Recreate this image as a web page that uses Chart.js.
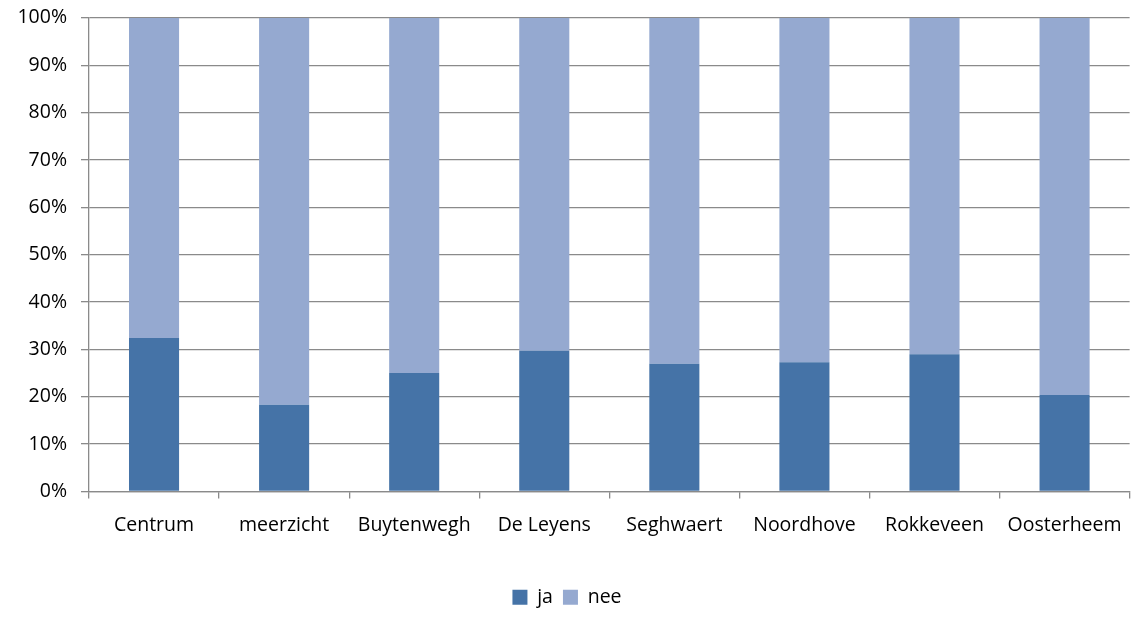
<!DOCTYPE html>
<html lang="nl">
<head>
    <meta charset="UTF-8">
    <title>ja / nee per wijk</title>
    <script src="https://cdn.jsdelivr.net/npm/chart.js"></script>
    <style>
        html, body { margin: 0; padding: 0; background: #fff; }
        .wrap { width: 1137px; height: 617px; }
    </style>
</head>
<body>
    <div class="wrap"><canvas id="chart" width="1137" height="617"></canvas></div>

    <script>
        // wijken en percentages
        const wijken = ['Centrum', 'meerzicht', 'Buytenwegh', 'De Leyens', 'Seghwaert', 'Noordhove', 'Rokkeveen', 'Oosterheem'];
        const ja  = [32.4, 18.3, 25.0, 29.7, 27.0, 27.3, 29.0, 20.4];
        const nee = [67.6, 81.7, 75.0, 70.3, 73.0, 72.7, 71.0, 79.6];
        const yTicks = [0, 10, 20, 30, 40, 50, 60, 70, 80, 90, 100];

        const gridColor = '#8a8a8a';
        const font = { family: '"Open Sans", sans-serif', size: 19.5 };

        new Chart(document.getElementById('chart'), {
            type: 'bar',
            data: {
                labels: wijken,
                datasets: [
                    { label: 'ja', data: ja, backgroundColor: '#4573a7', barPercentage: 0.77, categoryPercentage: 0.5 },
                    { label: 'nee', data: nee, backgroundColor: '#95a9d0', barPercentage: 0.77, categoryPercentage: 0.5 }
                ]
            },
            options: {
                responsive: false,
                animation: false,
                layout: { padding: { top: 14, right: 7, left: 4, bottom: 0 } },
                plugins: {
                    tooltip: { enabled: false },
                    legend: {
                        position: 'bottom',
                        labels: {
                            color: '#000',
                            font: font,
                            boxWidth: 15,
                            boxHeight: 15,
                            padding: 10
                        }
                    }
                },
                scales: {
                    x: {
                        stacked: true,
                        grid: { display: true, drawOnChartArea: false, drawTicks: true, tickLength: 7, color: gridColor, lineWidth: 1.3, offset: true },
                        border: { display: true, color: gridColor, width: 1.3 },
                        ticks: { color: '#000', font: font, padding: 15, maxRotation: 0, autoSkip: false },
                        afterFit: s => { s.height = 86; }
                    },
                    y: {
                        stacked: true,
                        min: 0,
                        max: 100,
                        afterBuildTicks: s => { s.ticks = yTicks.map(v => ({ value: v })); },
                        grid: { color: gridColor, lineWidth: 1.3, tickLength: 8 },
                        border: { display: true, color: gridColor, width: 1.3 },
                        ticks: { color: '#000', font: { family: font.family, size: font.size, lineHeight: 0.4 }, padding: 14, callback: v => v + '%' },
                        afterFit: s => { s.width = 85; }
                    }
                }
            }
        });
    </script>
</body>
</html>
